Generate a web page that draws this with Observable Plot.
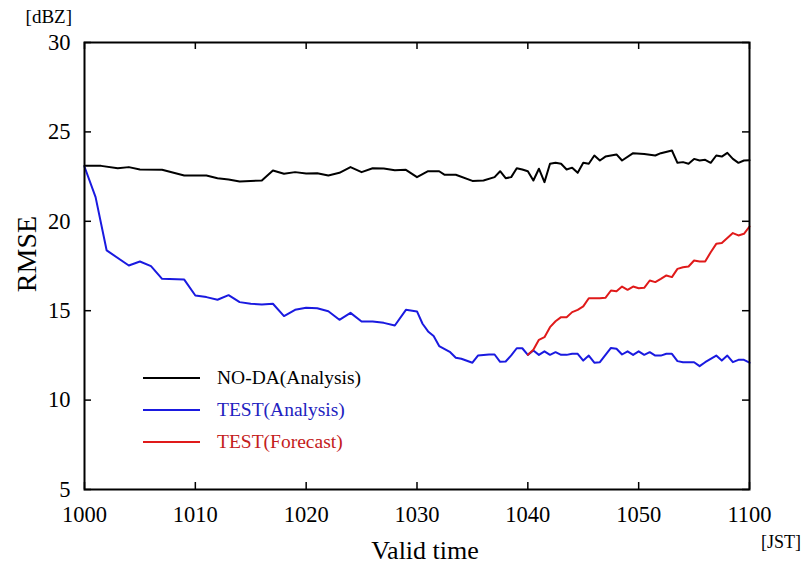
<!DOCTYPE html>
<html>
<head>
<meta charset="utf-8">
<script src="https://cdn.jsdelivr.net/npm/d3@7"></script>
<script src="https://cdn.jsdelivr.net/npm/@observablehq/plot@0.6"></script>
<style>
  html, body { margin: 0; padding: 0; background: #fff; }
  #wrap { position: relative; width: 805px; height: 565px; font-family: "Liberation Serif", "DejaVu Serif", serif; }
  .lbl { position: absolute; white-space: nowrap; color: #000; }
  #legend { position: absolute; left: 143px; top: 362px; font-size: 19.5px; }
  #legend .item { display: flex; align-items: center; height: 32px; }
  #legend .sw { width: 57px; height: 2px; margin-right: 17px; }
</style>
</head>
<body>
<div id="wrap"></div>
<script>
// ---- data (minutes after 10:00 JST, RMSE in dBZ) ----
const xTicks = [0, 10, 20, 30, 40, 50, 60];
const xTickLabels = ["1000", "1010", "1020", "1030", "1040", "1050", "1100"];
const yTicks = [5, 10, 15, 20, 25, 30];

const seriesNames = ["NO-DA(Analysis)", "TEST(Analysis)", "TEST(Forecast)"];
const seriesColors = ["#000000", "#1a1ae0", "#e01a1a"];
const seriesTextColors = ["#000000", "#2222c0", "#c42020"];

const noDaT = [0,1.5,3,4,5,7,9,11,12,13,14,16,17,18,19,20,21,22,23,24,25,26,27,28,29,30,31,32,32.5,33.5,35,36,37,37.5,38,38.5,39,39.5,40,40.5,41,41.5,42,42.5,43,43.5,44,44.5,45,45.5,46,46.5,47,48,48.5,49.5,50.5,51.5,52,53,53.5,54,54.5,55,55.5,56,56.5,57,57.5,58,58.5,59,59.5,60];
const noDaV = [23.1,23.1,22.97,23.03,22.9,22.88,22.56,22.56,22.41,22.34,22.23,22.28,22.84,22.66,22.75,22.68,22.69,22.56,22.71,23.03,22.75,22.97,22.95,22.86,22.88,22.47,22.8,22.8,22.6,22.6,22.26,22.28,22.47,22.8,22.41,22.47,22.97,22.9,22.8,22.28,22.94,22.19,23.22,23.27,23.22,22.9,23.0,22.71,23.27,23.22,23.68,23.4,23.62,23.74,23.4,23.81,23.77,23.68,23.81,23.96,23.27,23.31,23.22,23.49,23.4,23.44,23.27,23.68,23.62,23.83,23.49,23.27,23.4,23.42];

const testAnT = [0,1,2,4,5,6,7,9,10,11,12,13,14,15,16,17,18,19,20,21,22,23,24,25,26,27,28,29,30,30.5,31,31.5,32,33,33.5,34,35,35.5,36.5,37,37.5,38,38.5,39,39.5,40,40.5,41,41.5,42,42.5,43,43.5,44,44.5,45,45.5,46,46.5,47.5,48,48.5,49,49.5,50,50.5,51,51.5,52,52.5,53,53.5,54,55,55.5,56,57,57.5,58,58.5,59,59.5,60];
const testAnV = [23.05,21.35,18.37,17.53,17.75,17.49,16.78,16.74,15.85,15.76,15.61,15.87,15.48,15.39,15.35,15.39,14.7,15.05,15.16,15.14,14.97,14.49,14.88,14.4,14.4,14.32,14.17,15.05,14.96,14.27,13.84,13.58,13.02,12.68,12.37,12.31,12.09,12.49,12.55,12.55,12.14,12.16,12.5,12.9,12.9,12.53,12.77,12.53,12.73,12.53,12.68,12.53,12.53,12.59,12.59,12.21,12.49,12.09,12.12,12.92,12.87,12.55,12.73,12.53,12.73,12.53,12.68,12.49,12.49,12.59,12.59,12.18,12.12,12.12,11.9,12.12,12.49,12.21,12.49,12.12,12.25,12.25,12.09];

const testFcT = [40,40.5,41,41.5,42,42.5,43,43.5,44,44.5,45,45.5,46,46.5,47,47.5,48,48.5,49,49.5,50,50.5,51,51.5,52,52.5,53,53.5,54,54.5,55,55.5,56,56.5,57,57.5,58,58.5,59,59.5,60];
const testFcV = [12.53,12.81,13.37,13.52,14.08,14.41,14.64,14.64,14.92,15.05,15.24,15.7,15.7,15.7,15.72,16.13,16.09,16.35,16.17,16.35,16.26,16.28,16.69,16.6,16.78,16.97,16.88,17.34,17.43,17.47,17.81,17.75,17.75,18.27,18.74,18.78,19.06,19.34,19.21,19.3,19.71];

// ---- build ----
const toRows = (ts, vs) => ts.map((t, i) => ({t, v: vs[i]}));
const series = [toRows(noDaT, noDaV), toRows(testAnT, testAnV), toRows(testFcT, testFcV)];

const W = 805, H = 565, mL = 84, mR = 56, mT = 42, mB = 76;
const innerW = W - mL - mR, innerH = H - mT - mB;
const tickLen = 7;

const chart = Plot.plot({
  width: W, height: H,
  marginLeft: mL, marginRight: mR, marginTop: mT, marginBottom: mB,
  x: {domain: [0, 60]},
  y: {domain: [5, 30]},
  style: {fontFamily: "'Liberation Serif', 'DejaVu Serif', serif", fontSize: "22px", background: "#fff", color: "#000"},
  marks: [
    Plot.axisX(xTicks, {tickSize: 0, tickPadding: 17, fontSize: 22.5, label: null,
      tickFormat: d => xTickLabels[xTicks.indexOf(d)]}),
    Plot.axisY(yTicks, {tickSize: 0, tickPadding: 14, fontSize: 22.5, label: null}),
    // inward ticks on all four sides
    Plot.ruleX(xTicks, {x: d => d, insetTop: innerH - tickLen, stroke: "#000", strokeWidth: 1.5}),
    Plot.ruleX(xTicks, {x: d => d, insetBottom: innerH - tickLen, stroke: "#000", strokeWidth: 1.5}),
    Plot.ruleY(yTicks, {y: d => d, insetRight: innerW - tickLen, stroke: "#000", strokeWidth: 1.5}),
    Plot.ruleY(yTicks, {y: d => d, insetLeft: innerW - tickLen, stroke: "#000", strokeWidth: 1.5}),
    ...series.map((rows, i) => Plot.line(rows, {x: "t", y: "v", stroke: seriesColors[i], strokeWidth: 2, strokeLinejoin: "round"})),
    Plot.frame({stroke: "#000", strokeWidth: 2})
  ]
});

const wrap = document.getElementById("wrap");
wrap.appendChild(chart);

function addLabel(text, css) {
  const d = document.createElement("div");
  d.className = "lbl";
  d.textContent = text;
  Object.assign(d.style, css);
  wrap.appendChild(d);
  return d;
}
addLabel("[dBZ]", {right: (W - 72) + "px", top: "6px", fontSize: "19px"});
addLabel("[JST]", {left: "761px", top: "532px", fontSize: "18px"});
addLabel("Valid time", {left: "425px", top: "536px", fontSize: "26px", transform: "translateX(-50%)"});
addLabel("RMSE", {left: "27px", top: "254px", fontSize: "28px", transform: "translate(-50%, -50%) rotate(-90deg)"});

// legend
const lg = document.createElement("div");
lg.id = "legend";
seriesNames.forEach((name, i) => {
  const it = document.createElement("div");
  it.className = "item";
  const sw = document.createElement("div");
  sw.className = "sw";
  sw.style.background = seriesColors[i];
  const tx = document.createElement("span");
  tx.textContent = name;
  tx.style.color = seriesTextColors[i];
  it.appendChild(sw); it.appendChild(tx);
  lg.appendChild(it);
});
wrap.appendChild(lg);
</script>
</body>
</html>
